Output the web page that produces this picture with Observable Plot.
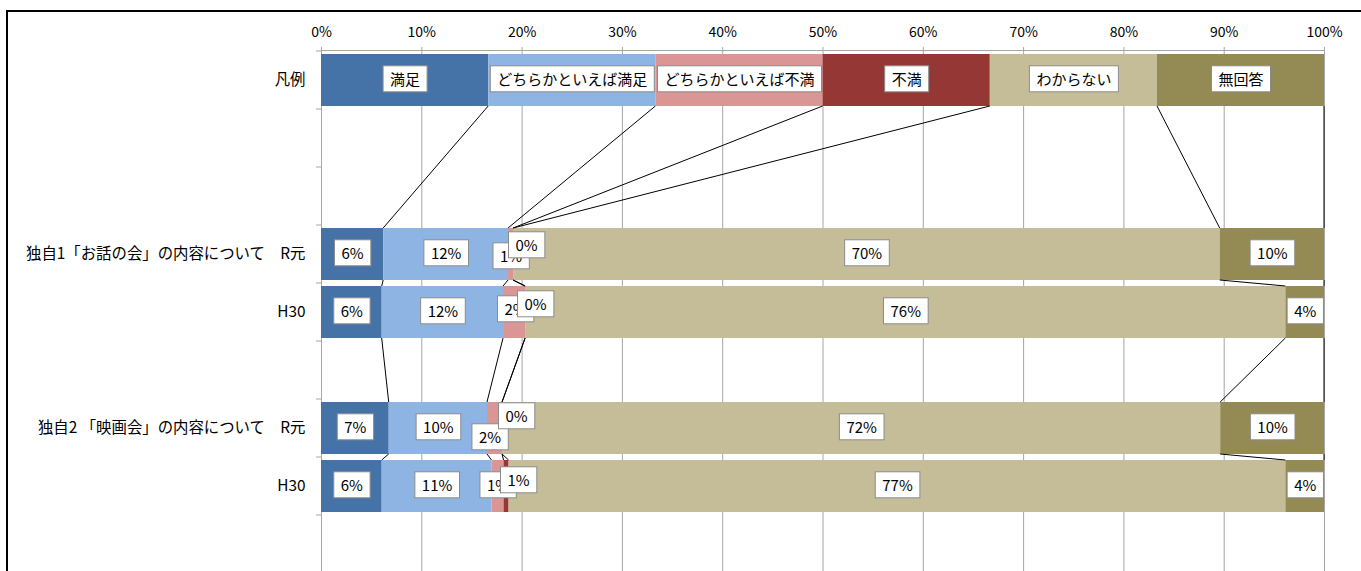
<!DOCTYPE html>
<html><head><meta charset="utf-8">
<script src="https://cdn.jsdelivr.net/npm/d3@7"></script>
<script src="https://cdn.jsdelivr.net/npm/@observablehq/plot@0.6"></script>
<style>
html,body{margin:0;padding:0;background:#fff;overflow:hidden;width:1361px;height:571px}
#frame{position:absolute;left:6px;top:10px;width:2000px;height:2000px;border:2px solid #000;box-sizing:border-box}
#chart{position:absolute;left:0;top:0}
</style></head><body>
<div id="frame"></div><div id="chart"></div>
<script>
const categories = ["満足","どちらかといえば満足","どちらかといえば不満","不満","わからない","無回答"];
const colors = ["#4673A7","#8EB4E3","#D99694","#953735","#C4BD97","#948A54"];
const rowLabels = ["凡例","","","独自1「お話の会」の内容について　R元","H30","","独自2 「映画会」の内容について　R元","H30",""];
const legendValues = [16.67,16.67,16.67,16.67,16.67,16.65];
const ohanashiR1 = [6.2,12.45,0.5,0,70.45,10.4];
const ohanashiH30 = [6.05,12.1,2.2,0,75.8,3.85];
const eigaR1 = [6.75,9.8,1.5,0,71.6,10.35];
const eigaH30 = [6.05,10.95,1.2,0.5,77.45,3.85];
const xTicks = [0,10,20,30,40,50,60,70,80,90,100];

// label nudges (px) for crowded small segments, keyed "row|category index"
const nudges = {"3|2":[0,3],"3|3":[13,-8],"4|2":[1,-2],"4|3":[10,-7],"6|2":[-5,10],"6|3":[14,-11],"7|2":[0,0],"7|3":[12,-5]};

const rowKeys = rowLabels.map((_, i) => "r" + i);
const seriesByRow = {0: legendValues, 3: ohanashiR1, 4: ohanashiH30, 6: eigaR1, 7: eigaH30};
const filledRows = [0, 3, 4, 6, 7];

const table = [];
for (const r of filledRows) {
  let cum = 0;
  seriesByRow[r].forEach((v, j) => {
    table.push({row: rowKeys[r], ri: r, cat: categories[j], ci: j, value: v,
      x1: cum, x2: cum + v, mid: cum + v / 2,
      label: r === 0 ? categories[j] : Math.round(v) + "%"});
    cum += v;
  });
}

const font = "'Noto Sans CJK JP', 'Noto Sans', sans-serif";
const labelMarks = table.map(d => {
  const n = nudges[d.ri + "|" + d.ci] || [0, 0];
  return Plot.text([d], {x: "mid", y: "row", text: "label", dx: n[0], dy: n[1],
    fill: "#000", fontSize: 15});
});

const chart = Plot.plot({
  width: 1361, height: 575,
  marginTop: 50, marginBottom: 0, marginLeft: 321, marginRight: 37,
  style: {fontFamily: font, background: "transparent", overflow: "visible"},
  x: {domain: [0, 100], label: null},
  y: {type: "band", domain: rowKeys, paddingInner: 0.1, paddingOuter: 0.05, label: null},
  color: {domain: categories, range: colors},
  marks: [
    Plot.gridX(xTicks, {stroke: "#A6A6A6", strokeOpacity: 1, strokeWidth: 1}),
    Plot.frame({anchor: "top", stroke: "#A6A6A6"}),
    Plot.frame({anchor: "left", stroke: "#A6A6A6"}),
    Plot.axisX({anchor: "top", ticks: xTicks, tickSize: 4, tickPadding: 10,
      tickFormat: d => d + "%", fontSize: 14, stroke: "#A6A6A6", fill: "#000"}),
    Plot.axisY({tickSize: 0, tickPadding: 16, fontSize: 15.4, fill: "#000",
      tickFormat: k => rowLabels[+k.slice(1)]}),
    Plot.barX(table, {x1: "x1", x2: "x2", y: "row", fill: "cat"}),
    ...labelMarks
  ]
});

document.getElementById("chart").append(chart);

const xs = chart.scale("x"), ys = chart.scale("y");
const ns = "http://www.w3.org/2000/svg";
const firstLabel = chart.querySelector('g[aria-label="text"]');

// series lines joining stacked boundaries between consecutive filled rows
const gl = document.createElementNS(ns, "g");
for (let k = 0; k < filledRows.length - 1; k++) {
  const a = filledRows[k], b = filledRows[k + 1];
  const va = seriesByRow[a], vb = seriesByRow[b];
  let ca = 0, cb = 0;
  for (let j = 0; j < categories.length; j++) {
    ca += va[j]; cb += vb[j];
    const ln = document.createElementNS(ns, "line");
    ln.setAttribute("x1", xs.apply(ca));
    ln.setAttribute("y1", ys.apply(rowKeys[a]) + ys.bandwidth);
    ln.setAttribute("x2", xs.apply(cb));
    ln.setAttribute("y2", ys.apply(rowKeys[b]));
    ln.setAttribute("stroke", "#000");
    ln.setAttribute("stroke-width", "1");
    gl.appendChild(ln);
  }
}
// category boundary tick marks on the left axis
const half = (ys.step - ys.bandwidth) / 2;
for (let i = 0; i <= rowKeys.length; i++) {
  const y = ys.apply(rowKeys[0]) - half + i * ys.step;
  const ln = document.createElementNS(ns, "line");
  ln.setAttribute("x1", xs.apply(0) - 5);
  ln.setAttribute("x2", xs.apply(0));
  ln.setAttribute("y1", y); ln.setAttribute("y2", y);
  ln.setAttribute("stroke", "#A6A6A6");
  gl.appendChild(ln);
}
firstLabel.parentNode.insertBefore(gl, firstLabel);

// white boxes behind data labels
chart.querySelectorAll('g[aria-label="text"] text').forEach(t => {
  const b = t.getBBox();
  const r = document.createElementNS(ns, "rect");
  const cy = b.y + b.height / 2;
  r.setAttribute("x", b.x - 7);
  r.setAttribute("y", cy - 13);
  r.setAttribute("width", b.width + 14);
  r.setAttribute("height", 26);
  r.setAttribute("fill", "#fff");
  r.setAttribute("stroke", "#8C8C8C");
  r.setAttribute("stroke-width", "1");
  const tr = t.getAttribute("transform");
  if (tr) r.setAttribute("transform", tr);
  t.parentNode.insertBefore(r, t);
});
</script>
</body></html>
